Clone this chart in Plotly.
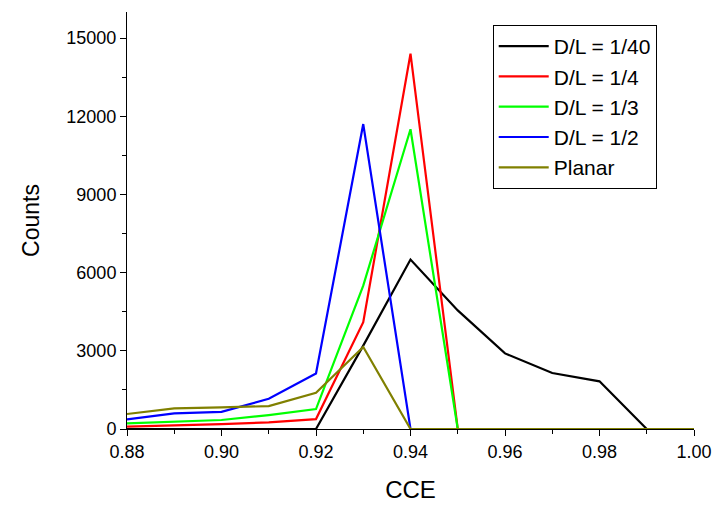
import plotly.graph_objects as go

cce = [0.88, 0.89, 0.90, 0.91, 0.92, 0.93, 0.94, 0.95, 0.96, 0.97, 0.98, 0.99, 1.00]

counts_1_40 = [0, 0, 0, 0, 0, 3200, 6500, 4550, 2900, 2150, 1830, 0, 0]
counts_1_4 = [90, 130, 190, 255, 380, 4100, 14400, 0, 0, 0, 0, 0, 0]
counts_1_3 = [215, 280, 345, 535, 765, 5500, 11500, 0, 0, 0, 0, 0, 0]
counts_1_2 = [370, 600, 660, 1160, 2130, 11700, 0, 0, 0, 0, 0, 0, 0]
counts_planar = [575, 790, 830, 880, 1390, 3150, 0, 0, 0, 0, 0, 0, 0]

series = [
    ("D/L = 1/40", counts_1_40, "#000000"),
    ("D/L = 1/4", counts_1_4, "#ff0000"),
    ("D/L = 1/3", counts_1_3, "#00ff00"),
    ("D/L = 1/2", counts_1_2, "#0000ff"),
    ("Planar", counts_planar, "#808000"),
]

x_ticks = [0.88, 0.90, 0.92, 0.94, 0.96, 0.98, 1.00]
y_ticks = [0, 3000, 6000, 9000, 12000, 15000]

fig = go.Figure()
for name, vals, color in series:
    fig.add_trace(go.Scatter(
        x=cce, y=vals, name=name, mode="lines",
        line=dict(color=color, width=2.2),
    ))

font_family = "Liberation Sans, Arial, sans-serif"

fig.update_layout(
    width=716, height=510,
    margin=dict(l=127, r=22, t=12, b=81, autoexpand=False),
    paper_bgcolor="white", plot_bgcolor="white",
    font=dict(family=font_family, color="black"),
    showlegend=True,
    legend=dict(
        x=0.645, y=0.969, xanchor="left", yanchor="top",
        bordercolor="black", borderwidth=1,
        font=dict(size=21, family=font_family),
        itemwidth=50,
        bgcolor="white",
    ),
    xaxis=dict(
        range=[0.88, 1.00], tickvals=x_ticks,
        ticktext=[f"{v:.2f}" for v in x_ticks],
        automargin=False,
        showline=True, linecolor="black", linewidth=1,
        ticks="outside", ticklen=6, tickcolor="black",
        minor=dict(dtick=0.01, tick0=0.88, ticks="outside", ticklen=4, tickcolor="black"),
        showgrid=False, zeroline=False,
        tickfont=dict(size=18),
        title=dict(text="CCE", font=dict(size=24), standoff=20),
    ),
    yaxis=dict(
        range=[0, 16000], tickvals=y_ticks,
        ticktext=[str(v) for v in y_ticks],
        automargin=False,
        showline=True, linecolor="black", linewidth=1,
        ticks="outside", ticklen=6, tickcolor="black",
        minor=dict(dtick=1500, tick0=0, ticks="outside", ticklen=4, tickcolor="black"),
        showgrid=False, zeroline=False,
        tickfont=dict(size=18),
        title=dict(text="Counts", font=dict(size=23), standoff=20),
    ),
)

fig.write_html("out.html")
